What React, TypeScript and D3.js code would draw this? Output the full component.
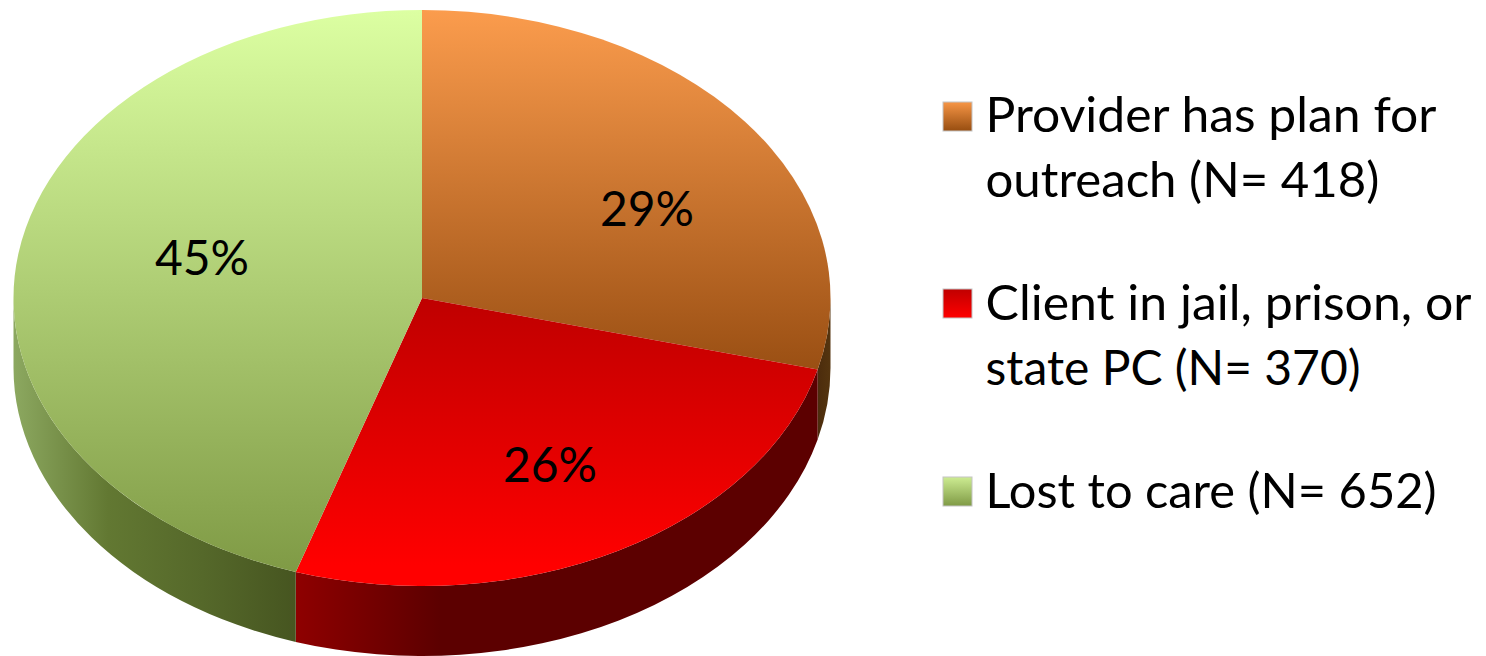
import React from "react";
import * as d3 from "d3";

// Share of clients per outcome, as labelled on the slices
const categories = ["Provider has plan for outreach", "Client in jail, prison, or state PC", "Lost to care"];
const shares = [29, 26, 45];
const percentLabels = ["29%", "26%", "45%"];
const legendLines = [
  ["Provider has plan for", "outreach (N= 418)"],
  ["Client in jail, prison, or", "state PC (N= 370)"],
  ["Lost to care (N= 652)"],
];

const WIDTH = 1486;
const HEIGHT = 656;
const cx = 422;
const cy = 298;
const rx = 408.5;
const ry = 288;
const depth = 70;
const FONT = "Lato, Carlito, 'Open Sans', sans-serif";

// Vertical fill ramps for the top face and horizontal ramps for the rim
const topRamps = [
  { y1: 10, y2: 370, stops: ["#fb9c4d", "#9a4f13"] },
  { y1: 298, y2: 565, stops: ["#bf0000", "#ff0000"] },
  { y1: 10, y2: 574, stops: ["#dcffa2", "#7f9a45"] },
];
const rimRamps = [
  { x1: 815, x2: 831, stops: ["#4a2a0c", "#55350f"] },
  { x1: 297, x2: 440, stops: ["#8e0000", "#5c0000"] },
  { x1: 14, x2: 297, stops: ["#8ca860", "#627832", "#55682a", "#465520"] },
];
const labelAnchors = [
  { x: 647, y: 207 },
  { x: 550, y: 463 },
  { x: 202, y: 256 },
];
const legendLayout = [
  { swatchY: 102, lineY: [132, 197] },
  { swatchY: 289, lineY: [320, 385] },
  { swatchY: 477, lineY: [508] },
];
const legendWidths = [[451, 394], [486, 375], [451]];
const swatchRamps = [
  ["#f79646", "#974d10"],
  ["#c00000", "#ff0000"],
  ["#cdec92", "#7f9a45"],
];

const pie = d3.pie<number>().sort(null).startAngle(0).endAngle(2 * Math.PI);
const slices = pie(shares);

const px = (a: number) => cx + rx * Math.sin(a);
const py = (a: number) => cy - ry * Math.cos(a);

// Top-face wedge of the tilted disc
function wedgePath(a0: number, a1: number) {
  const large = a1 - a0 > Math.PI ? 1 : 0;
  return `M${cx},${cy}L${px(a0)},${py(a0)}A${rx},${ry} 0 ${large} 1 ${px(a1)},${py(a1)}Z`;
}

// Outer rim band; only the front half of the disc (90deg to 270deg) shows
function rimPath(a0: number, a1: number) {
  const s = Math.max(a0, Math.PI / 2);
  const e = Math.min(a1, (3 * Math.PI) / 2);
  if (e <= s) return null;
  const large = e - s > Math.PI ? 1 : 0;
  return (
    `M${px(s)},${py(s)}A${rx},${ry} 0 ${large} 1 ${px(e)},${py(e)}` +
    `L${px(e)},${py(e) + depth}A${rx},${ry} 0 ${large} 0 ${px(s)},${py(s) + depth}Z`
  );
}

export default function App() {
  return (
    <svg
      width={WIDTH}
      height={HEIGHT}
      viewBox={`0 0 ${WIDTH} ${HEIGHT}`}
      style={{ position: "absolute", left: 0, top: 0, background: "#fff" }}
    >
      <defs>
        {topRamps.map((r, i) => (
          <linearGradient key={i} id={`top${i}`} gradientUnits="userSpaceOnUse" x1={0} x2={0} y1={r.y1} y2={r.y2}>
            {r.stops.map((c, j) => (
              <stop key={j} offset={j / (r.stops.length - 1)} stopColor={c} />
            ))}
          </linearGradient>
        ))}
        {rimRamps.map((r, i) => (
          <linearGradient key={i} id={`rim${i}`} gradientUnits="userSpaceOnUse" y1={0} y2={0} x1={r.x1} x2={r.x2}>
            {r.stops.map((c, j) => (
              <stop key={j} offset={j / (r.stops.length - 1)} stopColor={c} />
            ))}
          </linearGradient>
        ))}
        {swatchRamps.map((s, i) => (
          <linearGradient key={i} id={`swatch${i}`} x1={0} x2={0} y1={0} y2={1}>
            <stop offset={0} stopColor={s[0]} />
            <stop offset={1} stopColor={s[1]} />
          </linearGradient>
        ))}
      </defs>

      {slices.map((s, i) => {
        const d = rimPath(s.startAngle, s.endAngle);
        return d ? <path key={i} d={d} fill={`url(#rim${i})`} /> : null;
      })}
      {slices.map((s, i) => (
        <path key={i} d={wedgePath(s.startAngle, s.endAngle)} fill={`url(#top${i})`} />
      ))}

      {percentLabels.map((t, i) => (
        <text
          key={t}
          x={labelAnchors[i].x}
          y={labelAnchors[i].y}
          textAnchor="middle"
          dominantBaseline="central"
          fontFamily={FONT}
          fontSize={48}
          fill="#000"
        >
          {t}
        </text>
      ))}

      {categories.map((c, i) => (
        <g key={c}>
          <rect
            x={943}
            y={legendLayout[i].swatchY}
            width={29}
            height={29}
            fill={`url(#swatch${i})`}
            stroke="#c4c4c4"
            strokeWidth={1}
          />
          {legendLines[i].map((line, j) => (
            <text
              key={line}
              x={985.5}
              y={legendLayout[i].lineY[j]}
              fontFamily={FONT}
              fontSize={48}
              fill="#000"
              textLength={legendWidths[i][j]}
              lengthAdjust="spacingAndGlyphs"
            >
              {line}
            </text>
          ))}
        </g>
      ))}
    </svg>
  );
}
